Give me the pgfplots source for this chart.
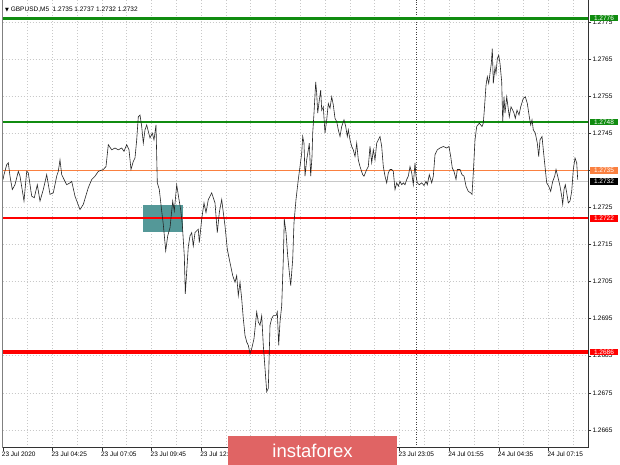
\documentclass[border=0pt]{standalone}
\usepackage{pgfplots}
\pgfplotsset{compat=1.18}
\usepackage{fontspec}
\setmainfont{Liberation Sans}
\newfontfamily\dejavu{DejaVu Sans}

\definecolor{mtgreen}{RGB}{16,140,16}
\definecolor{mtorange}{RGB}{250,128,64}
\definecolor{mtbid}{RGB}{200,200,200}
\definecolor{mtred}{RGB}{255,0,0}
\definecolor{boxteal}{RGB}{84,152,152}
\definecolor{ifxred}{RGB}{224,100,100}
\definecolor{gridgray}{RGB}{200,200,200}

\begin{document}
\begin{tikzpicture}[x=1pt,y=1pt]
    \useasboundingbox (0,0) rectangle (620,465);
    \fill[white] (0,0) rectangle (620,465);
    \begin{axis}[
        scale only axis, width=585.6pt, height=447.7pt,
        at={(2.7pt,17.3pt)}, anchor=south west,
        xmin=2.7, xmax=588.3, ymin=1.26602, ymax=1.27809,
        clip=false,
        axis x line*=bottom, axis y line*=right,
        axis line style={draw=black!80, line width=0.8pt, -},
        tick align=outside, major tick length=3pt, minor tick length=0pt,
        tick style={black!80, thin},
        xtick={2.7,52.3,101.9,151.5,201.1,250.7,300.3,349.9,399.5,449.1,498.7,548.3},
        xticklabels={23 Jul 2020,23 Jul 04:25,23 Jul 07:05,23 Jul 09:45,23 Jul 12:25,23 Jul 15:05,23 Jul 17:45,23 Jul 20:25,23 Jul 23:05,24 Jul 01:55,24 Jul 04:35,24 Jul 07:15},
        minor xtick={27.5,77.1,126.7,176.3,225.9,275.5,325.1,374.7,424.3,473.9,523.5,573.1},
        ytick={1.2665,1.2675,1.2685,1.2695,1.2705,1.2715,1.2725,1.2735,1.2745,1.2755,1.2765,1.2775},
        yticklabels={1.2665,1.2675,1.2685,1.2695,1.2705,1.2715,1.2725,1.2735,1.2745,1.2755,1.2765,1.2775},
        xticklabel style={anchor=north west, inner xsep=0pt, inner ysep=1pt, font=\fontsize{6.5}{7}\selectfont, xshift=-1pt},
        yticklabel style={anchor=west, inner xsep=1pt, font=\fontsize{6.5}{7}\selectfont},
        xmajorgrids, xminorgrids, ymajorgrids,
        grid style={gridgray, dash pattern=on 1pt off 2pt, line width=0.6pt},
        minor grid style={gridgray, dash pattern=on 1pt off 2pt, line width=0.6pt},
    ]
    % day separator
    \addplot[black!75, dash pattern=on 1pt off 1.5pt, line width=0.8pt] coordinates {(416.7,1.26602) (416.7,1.27809)};
    % teal zone
    \addplot[draw=none, fill=boxteal] coordinates {(143.3,1.27184) (183.3,1.27184) (183.3,1.27255) (143.3,1.27255)} -- cycle;
    % levels
    \addplot[mtbid, line width=1pt] coordinates {(2.7,1.2732) (588.3,1.2732)};
    \addplot[mtorange, line width=1pt] coordinates {(2.7,1.2735) (588.3,1.2735)};
    \addplot[mtgreen, line width=3pt] coordinates {(2.7,1.2776) (588.3,1.2776)};
    \addplot[mtgreen, line width=2pt] coordinates {(2.7,1.2748) (588.3,1.2748)};
    \addplot[mtred, line width=2pt] coordinates {(2.7,1.2722) (588.3,1.2722)};
    \addplot[mtred, line width=4pt] coordinates {(2.7,1.2686) (588.3,1.2686)};
    % price, M5 close
    \addplot[black!85, line width=0.6pt] coordinates {
        (3,1.27325) (4,1.27338) (6.7,1.27365) (8.3,1.2737) (10,1.27334) (12.3,1.27298) (15,1.27311) (18.3,1.27347) (20,1.27334) (24,1.27267)
        (26.7,1.27347) (28.3,1.27343) (31.7,1.2728) (34.3,1.27276) (37.3,1.27311) (40,1.27267) (43.3,1.27298) (46.7,1.27338) (50,1.27285) (53.3,1.27289)
        (56.7,1.27334) (58.3,1.27347) (60,1.27378) (61.7,1.27338) (65,1.2732) (66.7,1.27311) (70,1.27316) (71.7,1.2732) (75,1.2728) (80,1.27244)
        (83.3,1.27258) (88.3,1.27303) (91.7,1.27325) (95,1.27334) (98.3,1.27347) (103.3,1.27352) (106,1.2736) (108.3,1.27419) (111.7,1.27405) (115,1.2741)
        (118.3,1.27405) (121.7,1.2741) (124,1.27401) (126.7,1.27419) (129,1.27405) (131,1.27352) (133.3,1.27374) (135,1.27383) (136.7,1.27432) (138.3,1.27494)
        (140,1.27499) (141.7,1.27468) (143.3,1.27423) (145,1.27459) (146.7,1.27472) (150,1.27437) (152.3,1.2745) (154,1.27432) (156,1.27472) (157.3,1.27316)
        (159.3,1.27298) (161.7,1.2724) (163.3,1.27204) (165.7,1.27133) (167.7,1.27173) (170,1.27195) (172.7,1.27267) (174.3,1.2724) (176.7,1.27311) (179,1.27271)
        (180.7,1.27244) (182.3,1.27204) (184.3,1.27119) (185.3,1.27017) (188.3,1.27144)
        (190,1.27173) (191.7,1.27182) (193.3,1.27146) (195,1.27182) (198.3,1.27191) (199.3,1.27155) (201.7,1.27218) (204,1.27262) (206,1.27236) (208.3,1.27271)
        (211.7,1.27289) (215,1.27262) (217.3,1.27182) (219.3,1.27236) (221.7,1.27271) (223.3,1.27236) (225,1.272) (227.3,1.27137) (229.3,1.2711) (230.7,1.27092)
        (232.7,1.27066) (235,1.27048) (236.7,1.27066) (238.3,1.27012) (240,1.27048) (241.7,1.27003) (243.3,1.2695) (245,1.26905) (246.7,1.26887) (248.3,1.26878)
        (250,1.26856) (251.7,1.26869) (254,1.26896) (256.7,1.26968) (258.3,1.26941) (260,1.26932) (261.7,1.26958) (263.3,1.26878) (265,1.26816) (266.7,1.26753)
        (268.3,1.26762) (270,1.26932) (271.7,1.2695) (273.3,1.26958) (276,1.26958) (277.3,1.26968) (278.7,1.26878) (280,1.26941) (281.7,1.26985) (283.3,1.2711)
        (284.3,1.27218) (286,1.27182) (287.7,1.27119) (289.3,1.27075) (290.7,1.27039) (292.7,1.2711) (294,1.27209) (296,1.27271) (298.3,1.27325) (300,1.2736)
        (301.7,1.27396) (302.7,1.27441) (304,1.27423) (305,1.27334) (306.7,1.27378) (308.3,1.27405) (309.3,1.27423) (310.7,1.27334) (312,1.27387) (312.7,1.2745)
        (314,1.27504) (315.7,1.27588) (316.7,1.27557) (317.7,1.27504) (319.3,1.27539) (320.7,1.27566) (321.7,1.27512) (323.3,1.27521) (325,1.2745) (326.7,1.27486)
        (328.3,1.2753) (330,1.27517) (331.7,1.27548) (333.3,1.27526) (335,1.2749) (336.7,1.27481) (338.3,1.27459) (340,1.27441) (341.7,1.27468) (344,1.27486)
        (345.7,1.27468) (347.3,1.27441) (348.3,1.27459) (350,1.27432) (351.7,1.27414) (353.3,1.27405) (355,1.27387) (356.7,1.27423) (358.3,1.27378) (360,1.2736)
        (362.7,1.27338) (364,1.27334) (366.7,1.27352) (368.3,1.2736) (370,1.27414) (371.7,1.2737) (373.3,1.27405) (375,1.27378) (376.7,1.27423) (378.3,1.27432)
        (380,1.27441) (381.7,1.27414) (383.3,1.2736) (385,1.27334) (386.7,1.27316) (388.3,1.27343) (390,1.27352)
        (391.7,1.27352) (393.3,1.27347) (395,1.27298) (396.7,1.27316) (398.3,1.27307) (400,1.2732) (401.7,1.27311) (403.3,1.27316) (405,1.27311) (406.7,1.27325)
        (408.3,1.27334) (410,1.2736) (411.7,1.27343) (413.3,1.27311) (415,1.2737) (416,1.27334) (417.3,1.27316) (419.3,1.27311) (421.7,1.27316) (424,1.27309)
        (426,1.2732) (427.3,1.27311) (429.3,1.27338) (431.7,1.27316) (433.3,1.27334) (435,1.27392) (437.3,1.27405) (440,1.2741) (443.3,1.27414) (446.7,1.2741)
        (449,1.27414) (450.7,1.27387) (452.3,1.27356) (454,1.27347) (456,1.27325) (457.3,1.27352) (460,1.27352) (462,1.27338) (464,1.27334) (466,1.27307)
        (468.3,1.27293) (470.7,1.27289) (472,1.27285) (473.3,1.27343) (475,1.27432) (476.7,1.27468) (479.3,1.27477) (482,1.27468) (483.3,1.27477) (484.3,1.27512)
        (486,1.27579) (487.3,1.27602) (488.7,1.27584) (490,1.27611) (491.3,1.27638) (492.3,1.27678) (493.3,1.27584) (495,1.27628) (496,1.27611) (497.3,1.27651)
        (498.7,1.2766) (500,1.27638) (501.7,1.27588) (502.7,1.27481) (504,1.27548) (505,1.27504) (506.7,1.27548) (508,1.27521) (509.3,1.27494) (511,1.27521)
        (512.7,1.27512) (514,1.27504) (515.3,1.2749) (517,1.27512) (519,1.27499) (520.7,1.27521) (523.3,1.27544) (525.3,1.27548) (527.3,1.2753) (529.3,1.27494)
        (530.7,1.27472) (532,1.27486) (533.3,1.27459) (535.3,1.2745) (537.3,1.27423) (538.7,1.27387) (540,1.27432) (542,1.27441) (543.3,1.27405) (545,1.2736)
        (546.7,1.27316) (548.7,1.27307) (550.7,1.27293) (552.7,1.2732) (554.7,1.27334) (556,1.27352) (557.7,1.27334) (560,1.27307) (561.7,1.2728) (562.7,1.27258)
        (564,1.27298) (565.3,1.27311) (566.7,1.27289) (568.3,1.27262) (570,1.27267) (571.7,1.27293) (573.3,1.27352) (575,1.27383) (576.7,1.2737) (577.7,1.27325)
    };
    % price tags on the right scale
    \begin{scope}[every node/.style={anchor=west, text=white, inner xsep=1.5pt, inner ysep=1pt, minimum width=28pt, align=left, font=\fontsize{6.5}{7}\selectfont, xshift=1.5pt}]
        \node[fill=mtgreen] at (axis cs:588.3,1.2776) {1.2776};
        \node[fill=mtgreen] at (axis cs:588.3,1.2748) {1.2748};
        \node[fill=mtorange] at (axis cs:588.3,1.2735) {1.2735};
        \node[fill=black] at (axis cs:588.3,1.2732) {1.2732};
        \node[fill=mtred] at (axis cs:588.3,1.2722) {1.2722};
        \node[fill=mtred] at (axis cs:588.3,1.2686) {1.2686};
    \end{scope}
    \end{axis}
    % left border of the chart window
    \draw[gray, line width=1.5pt] (2.7,17.3) -- (2.7,465);
    % symbol header
    \node[anchor=west, font=\fontsize{6.5}{7}\selectfont, inner sep=0pt] at (5,455) {{\dejavu\fontsize{5}{6}\selectfont ▼}\ GBPUSD,M5\ \ 1.2735 1.2737 1.2732 1.2732};
    % watermark
    \fill[ifxred] (228,0) rectangle (397,29);
    \node[text=white, font=\fontsize{18.5}{20}\selectfont] at (312.5,14) {instaforex};
\end{tikzpicture}
\end{document}
